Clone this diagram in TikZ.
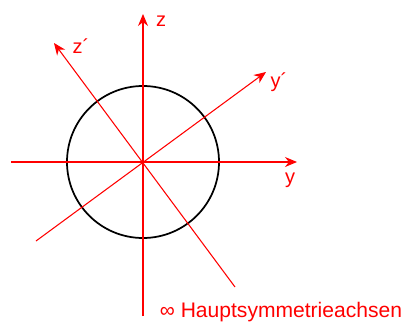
\documentclass[tikz,border=0pt]{standalone}
\usepackage{fontspec}
\setmainfont{Liberation Sans}
\usetikzlibrary{arrows.meta}
\begin{document}
\begin{tikzpicture}[>={Stealth[length=9pt,width=7.5pt]},x=0.75pt,y=-0.75pt]
  \tikzset{axis/.style={->,red,line width=0.8pt},
    lbl/.style={text=red,inner sep=0pt,font=\fontsize{15}{17}\selectfont}}
  \useasboundingbox (0,0) rectangle (403,325);
  \coordinate (O) at (143,162);
  \draw[line width=1.3pt] (O) circle[radius=76];
  % axis ends
  \coordinate (yL) at (11,162);
  \coordinate (yR) at (297,162);
  \coordinate (zB) at (143,316);
  \coordinate (zT) at (143,14);
  \coordinate (ypB) at (36,241);
  \coordinate (ypT) at (266,72);
  \coordinate (zpB) at (235,287);
  \coordinate (zpT) at (54,43);
  \draw[axis] (yL) -- (yR);
  \draw[axis] (zB) -- (zT);
  \draw[axis] (ypB) -- (ypT);
  \draw[axis] (zpB) -- (zpT);
  % labels
  \node[lbl] (ylbl) at (290,180) {y};
  \node[lbl] (zlbl) at (161,21) {z};
  \node[lbl] (yplbl) at (279,82) {y´};
  \node[lbl] (zplbl) at (81,46) {z´};
  \node[lbl,anchor=base,font=\fontsize{15.8}{18}\selectfont] (note) at (281,317) {∞ Hauptsymmetrieachsen};
\end{tikzpicture}
\end{document}
